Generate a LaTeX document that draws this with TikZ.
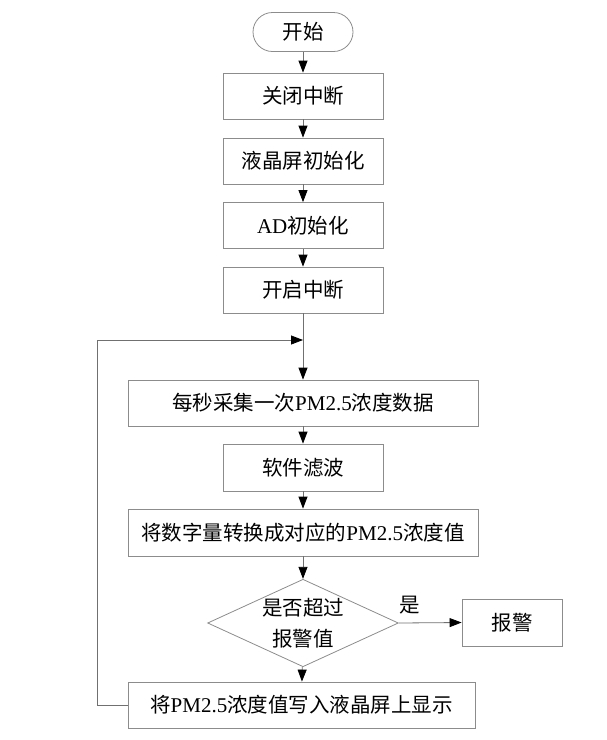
\documentclass[tikz,border=0pt]{standalone}
\usepackage{fontspec}
\setmainfont{Liberation Serif}
\newfontfamily\cjk{Noto Sans CJK SC}
\usetikzlibrary{shapes.geometric,arrows.meta}
\definecolor{boxline}{HTML}{8C8C8C}
\definecolor{conline}{HTML}{707070}
\tikzset{
  base/.style={draw=boxline, line width=0.8pt, inner sep=0pt, align=center,
    font=\fontsize{20.5}{31}\selectfont},
  procbox/.style={base, rectangle, minimum height=46, minimum width=160},
  widebox/.style={procbox, minimum width=350},
  termbox/.style={base, rectangle, rounded corners=19.5, minimum width=100, minimum height=39},
  decbox/.style={base, diamond, aspect=2.18, minimum width=177, minimum height=81},
  conn/.style={draw=conline, line width=0.8pt},
  arr/.style={conn, -{Triangle[length=12pt,width=9pt,color=black]}},
  lbl/.style={inner sep=0pt, font=\fontsize{20.5}{24}\selectfont}
}
\newcommand{\lat}[1]{{\fontsize{21}{31}\selectfont #1}}
\begin{document}
\begin{tikzpicture}[x=1pt,y=-1pt]
\useasboundingbox (0,0) rectangle (607,740);
\node[termbox] (start) at (303,32) {\cjk 开始};
\node[procbox] (b1) at (303,96) {\cjk 关闭中断};
\node[procbox] (b2) at (303,161) {\cjk 液晶屏初始化};
\node[procbox] (b3) at (303,225.5) {\lat{AD}{\cjk 初始化}};
\node[procbox] (b4) at (303,290) {\cjk 开启中断};
\node[widebox] (b5) at (303,403) {{\cjk 每秒采集一次}\lat{PM2.5}{\cjk 浓度数据}};
\node[procbox, minimum height=47] (b6) at (303,467.5) {\cjk 软件滤波};
\node[widebox, minimum height=47] (b7) at (303,532.5) {{\cjk 将数字量转换成对应的}\lat{PM2.5}{\cjk 浓度值}};
\node[decbox] (d) at (303,623) {\cjk 是否超过\\\cjk 报警值};
\node[procbox, minimum width=100, minimum height=47] (alarm) at (512,622.5) {\cjk 报警};
\node[widebox, minimum width=347] (b8) at (301.5,705) {{\cjk 将}\lat{PM2.5}{\cjk 浓度值写入液晶屏上显示}};
\node[lbl] (yes) at (410,605) {\cjk 是};
\coordinate (join) at (303,340);
\coordinate (lb) at (97,705);
\coordinate (lt) at (97,340);
\draw[arr] (start) -- (b1);
\draw[arr] (b1) -- (b2);
\draw[arr] (b2) -- (b3);
\draw[arr] (b3) -- (b4);
\draw[arr] (b4) -- (b5);
\draw[arr] (b5) -- (b6);
\draw[arr] (b6) -- (b7);
\draw[arr] (b7) -- (d);
\draw[arr] (d) -- (b8);
\draw[arr] (d.east) -- (alarm.west);
\draw[arr] (b8.west) -- (lb) -- (lt) -- (join);
\end{tikzpicture}
\end{document}
